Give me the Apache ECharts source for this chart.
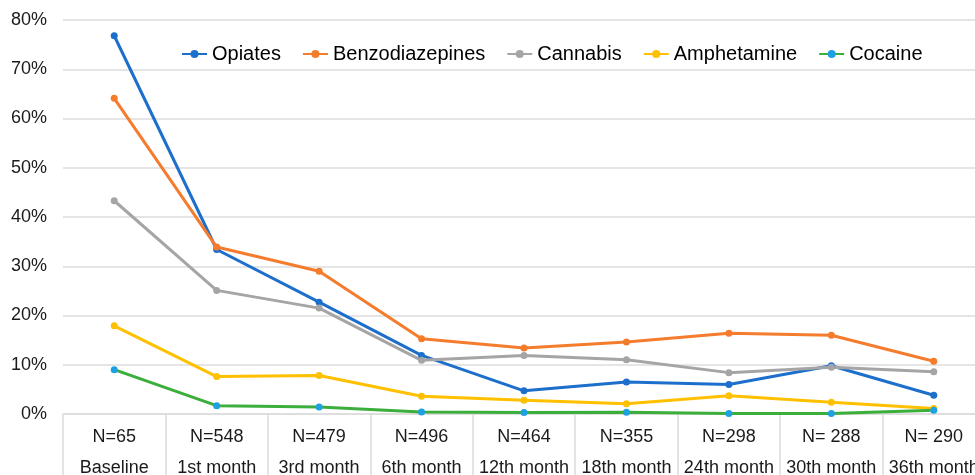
<!DOCTYPE html>
<html>
<head>
<meta charset="utf-8">
<script src="https://cdn.jsdelivr.net/npm/echarts@6/dist/echarts.min.js"></script>
<style>
html,body{margin:0;padding:0;background:#fff;}
#chart{width:975px;height:475px;}
</style>
</head>
<body>
<div id="chart"></div>
<script>
const categories = ['Baseline','1st month','3rd month','6th month','12th month','18th month','24th month','30th month','36th month'];
const sampleSizes = ['N=65','N=548','N=479','N=496','N=464','N=355','N=298','N= 288','N= 290'];
const opiates = [76.8, 33.4, 22.7, 11.9, 4.7, 6.5, 6.0, 9.8, 3.8];
const benzodiazepines = [64.1, 33.9, 29.0, 15.3, 13.4, 14.6, 16.4, 16.0, 10.7];
const cannabis = [43.3, 25.1, 21.5, 10.9, 11.9, 11.0, 8.4, 9.5, 8.6];
const amphetamine = [17.9, 7.6, 7.8, 3.6, 2.8, 2.1, 3.7, 2.4, 1.1];
const cocaine = [9.0, 1.7, 1.4, 0.4, 0.3, 0.35, 0.1, 0.1, 0.75];
const yTicks = [0, 10, 20, 30, 40, 50, 60, 70, 80];

const font = 'Liberation Sans, Arial, sans-serif';
const chart = echarts.init(document.getElementById('chart'));

function mk(name, data, lineColor, dotColor) {
  return {
    name: name, type: 'line', data: data,
    symbol: 'circle', symbolSize: 7,
    lineStyle: { color: lineColor, width: 3 },
    itemStyle: { color: dotColor },
    emphasis: { disabled: true },
    animation: false
  };
}

chart.setOption({
  backgroundColor: '#fff',
  animation: false,
  legend: {
    left: 181, top: 44, padding: 0,
    itemGap: 21, itemWidth: 25, itemHeight: 10,
    textStyle: { fontSize: 20, color: '#000', fontFamily: font },
    data: ['Opiates','Benzodiazepines','Cannabis','Amphetamine','Cocaine']
  },
  grid: { left: 63, width: 922, top: 20, bottom: 61, containLabel: false, outerBoundsMode: 'none' },
  xAxis: {
    type: 'category',
    data: categories,
    boundaryGap: true,
    axisLine: { lineStyle: { color: '#dcdcdc', width: 1.5 } },
    axisTick: { show: true, length: 62, lineStyle: { color: '#dcdcdc', width: 1.5 } },
    axisLabel: {
      interval: 0, margin: 8, fontSize: 18, lineHeight: 31, color: '#1a1a1a', fontFamily: font,
      formatter: function (v, i) { return sampleSizes[i] + '\n' + v; }
    }
  },
  yAxis: {
    type: 'value',
    min: yTicks[0], max: yTicks[yTicks.length - 1], interval: 10,
    axisLine: { show: false }, axisTick: { show: false },
    splitLine: { lineStyle: { color: '#dcdcdc', width: 1.5 } },
    axisLabel: { fontSize: 18, color: '#1a1a1a', fontFamily: font, margin: 16, formatter: '{value}%' }
  },
  series: [
    mk('Opiates', opiates, '#1d6fcc', '#1d6fcc'),
    mk('Benzodiazepines', benzodiazepines, '#f47c2c', '#f47c2c'),
    mk('Cannabis', cannabis, '#a5a5a5', '#a5a5a5'),
    mk('Amphetamine', amphetamine, '#ffc000', '#ffc000'),
    mk('Cocaine', cocaine, '#3cae3c', '#1da1e0')
  ]
});
</script>
</body>
</html>
